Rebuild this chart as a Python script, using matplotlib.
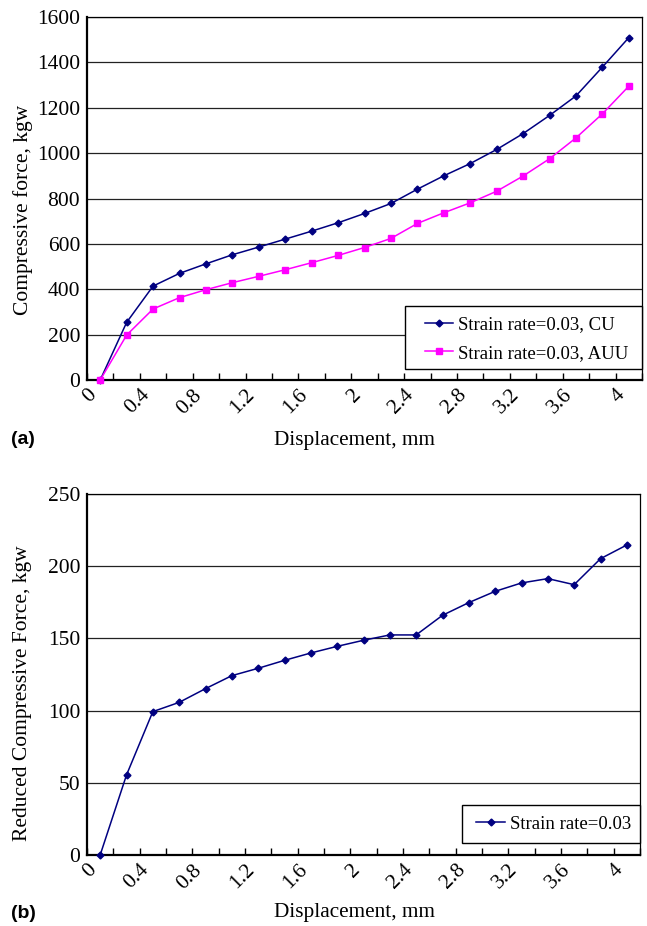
import matplotlib
matplotlib.use("Agg")
import matplotlib.pyplot as plt
from matplotlib.ticker import MultipleLocator, FixedLocator
from matplotlib.patches import Rectangle

plt.rcParams['font.family'] = ['Liberation Serif', 'DejaVu Serif']

displacement = [0.1, 0.3, 0.5, 0.7, 0.9, 1.1, 1.3, 1.5, 1.7, 1.9, 2.1,
                2.3, 2.5, 2.7, 2.9, 3.1, 3.3, 3.5, 3.7, 3.9, 4.1]
force_cu = [0, 254, 414, 470, 512, 552, 586, 621, 656, 693, 734,
            778, 841, 900, 954, 1016, 1086, 1166, 1252, 1379, 1509]
force_auu = [0, 198, 313, 363, 398, 429, 457, 486, 517, 549, 584,
             624, 690, 737, 781, 832, 899, 975, 1067, 1173, 1295]
reduced_force = [0, 55.4, 99.3, 105.7, 115.2, 124.2, 129.3, 134.8, 139.9, 144.5, 148.7,
                 152.4, 152.4, 166, 174.8, 182.6, 188.4, 191.4, 187.2, 205.2, 214.7]
x_tick_labels = ['0', '0.4', '0.8', '1.2', '1.6', '2', '2.4', '2.8', '3.2', '3.6', '4']
x_tick_values = [0, 0.4, 0.8, 1.2, 1.6, 2.0, 2.4, 2.8, 3.2, 3.6, 4.0]

W, H = 647, 926
fig = plt.figure(figsize=(W / 100, H / 100), dpi=100)

def px_axes(l, t, r, b):
    return fig.add_axes([l / W, 1 - b / H, (r - l) / W, (b - t) / H])

# axes pixel boxes (left, top, right, bottom)
box1 = (87, 17, 642, 380)
box2 = (87, 494, 640, 855)
ax1 = px_axes(*box1)
ax2 = px_axes(*box2)

navy = '#000080'
magenta = '#FF00FF'

def style(ax, box, ymax, ystep, ylabel, ylab_right_px, ylab_center_px, xlab_center_px):
    l, t, r, b = box
    w, h = r - l, b - t
    ax.set_xlim(0, 4.2)
    ax.set_ylim(0, ymax)
    ax.yaxis.set_major_locator(MultipleLocator(ystep))
    ax.xaxis.set_major_locator(FixedLocator(x_tick_values))
    ax.set_xticklabels(x_tick_labels, rotation=45, ha='right', va='top',
                       rotation_mode='anchor', fontsize=15.5)
    ax.xaxis.set_minor_locator(MultipleLocator(0.2))
    ax.tick_params(axis='x', which='both', direction='in', length=5, width=1, pad=4)
    ax.tick_params(axis='y', length=0, labelsize=15.5, pad=5)
    ax.grid(axis='y', color='#222222', linewidth=0.9)
    ax.set_axisbelow(True)
    for s in ['left', 'bottom']:
        ax.spines[s].set_linewidth(1.6)
    for s in ['top', 'right']:
        ax.spines[s].set_linewidth(0.9)
    ax.set_ylabel(ylabel, fontsize=15.5)
    ax.yaxis.set_label_coords((ylab_right_px - l) / w, (b - ylab_center_px) / h)
    ax.set_xlabel('Displacement, mm', fontsize=15.3)
    ax.xaxis.label.set_va('center')
    ax.xaxis.set_label_coords((xlab_center_px[0] - l) / w, (b - xlab_center_px[1]) / h)

def legend_box(ax, box, rect_px, handle_left_px, center_y_px, handlelength, labelspacing):
    l, t, r, b = box
    w, h = r - l, b - t
    rl, rt, rr, rb = rect_px
    ax.add_patch(Rectangle(((rl - l) / w, (b - rb) / h), (rr - rl) / w, (rb - rt) / h,
                           transform=ax.transAxes, facecolor='white', edgecolor='black',
                           linewidth=1.0, zorder=4, clip_on=False))
    leg = ax.legend(loc='center left', bbox_to_anchor=((handle_left_px - l) / w, (b - center_y_px) / h),
                    fontsize=13.5, frameon=False, borderpad=0, borderaxespad=0,
                    handlelength=handlelength, handletextpad=0.28, labelspacing=labelspacing)
    leg.set_zorder(5)
    return leg

ax1.plot(displacement, force_cu, color=navy, marker='D', markersize=3.5, lw=1.1,
         label='Strain rate=0.03, CU', clip_on=False, zorder=3)
ax1.plot(displacement, force_auu, color=magenta, marker='s', markersize=5, lw=1.1,
         label='Strain rate=0.03, AUU', clip_on=False, zorder=3)
style(ax1, box1, 1600, 200, 'Compressive force, kgw', 33, 210, (355, 440))
legend_box(ax1, box1, (405, 306, 642, 369), 425, 339, 1.5, 0.6)

ax2.plot(displacement, reduced_force, color=navy, marker='D', markersize=3.5, lw=1.1,
         label='Strain rate=0.03', clip_on=False, zorder=3)
style(ax2, box2, 250, 50, 'Reduced Compressive Force, kgw', 32, 693, (355, 913))
legend_box(ax2, box2, (462, 805, 640, 843), 476, 824, 1.55, 0.5)

fig.text(23 / W, 1 - 439 / H, '(a)', fontsize=14, fontweight='bold',
         family=['Liberation Sans', 'DejaVu Sans'], va='center', ha='center')
fig.text(23 / W, 1 - 913 / H, '(b)', fontsize=14, fontweight='bold',
         family=['Liberation Sans', 'DejaVu Sans'], va='center', ha='center')

fig.savefig('out.png', dpi=100)
